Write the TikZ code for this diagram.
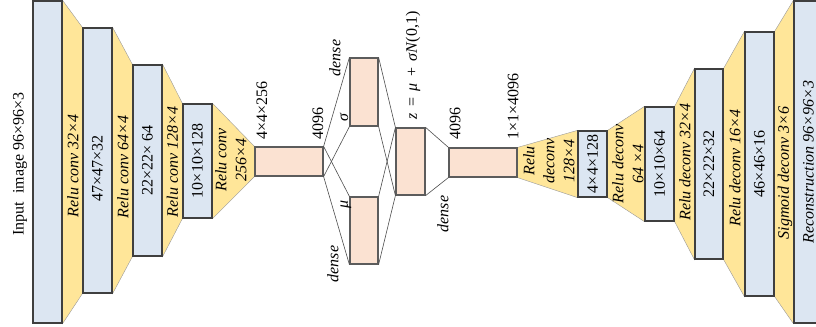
\documentclass[tikz,border=0pt]{standalone}
\usepackage{fontspec}
\setmainfont{Liberation Serif}
\usepackage{graphicx}
\usetikzlibrary{calc, backgrounds}
\definecolor{fmapblue}{HTML}{DCE6F2}
\definecolor{convyellow}{HTML}{FFE699}
\definecolor{densepink}{HTML}{FBE2D2}
\definecolor{edgegray}{HTML}{3F3F3F}
\tikzset{fmap/.style 2 args={draw=edgegray, line width=0.9pt, fill=fmapblue, inner sep=0pt, minimum width={#1*0.75pt}, minimum height={#2*0.75pt}}}
\tikzset{dense/.style 2 args={draw=edgegray!85, line width=0.9pt, fill=densepink, inner sep=0pt, minimum width={#1*0.75pt}, minimum height={#2*0.75pt}}}
\tikzset{convfill/.style={fill=convyellow, draw=black!40, line width=0.3pt}}
\tikzset{wire/.style={draw=black!70, line width=0.45pt}}
\tikzset{vlbl/.style={rotate=90, inner sep=1pt}}
\tikzset{convlbl/.style={rotate=90, inner sep=0pt, align=center, font=\fontsize{12}{15}\selectfont\itshape}}

\begin{document}
\begin{tikzpicture}[x=0.75pt, y=-0.75pt, every node/.append style={font=\fontsize{12}{15}\selectfont}]
    \useasboundingbox (0,0) rectangle (816,327);
    \clip (0,0) rectangle (816,327);

    % encoder feature maps
    \node[fmap={29}{322}] (inp) at (47.5,162) {};
    \node[fmap={29}{265}] (enc1) at (97.5,160.5) {\rotatebox{90}{47×47×32\hspace{12pt}}};
    \node[fmap={29}{191}] (enc2) at (147.5,160.5) {\rotatebox{90}{22×22× 64}};
    \node[fmap={29}{114}] (enc3) at (197.5,161) {\rotatebox{90}{10×10×128}};
    \node[vlbl] (inlbl) at (20,164) {Input\ \ image 96×96×3};

    % dense layers and sampling
    \node[dense={68}{29}] (h1) at (289,161.5) {};
    \node[dense={28}{68}] (sig) at (364,92) {};
    \node[dense={28}{67}] (mu) at (364,230.5) {};
    \node[dense={29}{67}] (z) at (410.5,161.5) {};
    \node[dense={68}{29}] (h2) at (483,162.5) {};

    % decoder feature maps
    \node[fmap={29}{66}] (dec1) at (592.5,164) {\rotatebox{90}{4×4×128}};
    \node[fmap={29}{114}] (dec2) at (659.5,164) {\rotatebox{90}{10×10×64}};
    \node[fmap={28}{190}] (dec3) at (709,164) {\rotatebox{90}{22×22×32}};
    \node[fmap={29}{264}] (dec4) at (759.5,164) {\rotatebox{90}{46×46×16}};
    \node[fmap={29}{322}] (out) at (808.5,162) {\rotatebox{90}{\itshape Reconstruction 96×96×3}};

    % conv / deconv stages between the maps
    \begin{scope}[on background layer]
        \foreach \a/\b in {inp/enc1, enc1/enc2, enc2/enc3, enc3/h1, h2/dec1, dec1/dec2, dec2/dec3, dec3/dec4, dec4/out}
            \draw[convfill] (\a.north east) -- (\b.north west) -- (\b.south west) -- (\a.south east) -- cycle;
    \end{scope}
    \node[convlbl] (c1) at (73,166) {Relu conv 32×4};
    \node[convlbl] (c2) at (123,167) {Relu conv 64×4};
    \node[convlbl] (c3) at (172.5,162) {Relu conv 128×4};
    \node[convlbl] (c4) at (231,160) {Relu conv\\256×4};
    \node[convlbl] (d1) at (549,161) {Relu\\deconv\\128×4};
    \node[convlbl] (d2) at (628,164) {Relu deconv\\64 ×4};
    \node[convlbl] (d3) at (685,162) {Relu deconv 32×4};
    \node[convlbl] (d4) at (735,168) {Relu deconv 16×4};
    \node[convlbl] (d5) at (785,173) {Sigmoid deconv 3×6};

    % fully connected wiring
    \foreach \t in {sig, mu} {
        \draw[wire] (h1.north east) -- (\t.north west);
        \draw[wire] (h1.south east) -- (\t.south west);
        \draw[wire] (\t.north east) -- (z.north west);
        \draw[wire] (\t.south east) -- (z.south west);
    }
    \draw[wire] (z.north east) -- (h2.north west);
    \draw[wire] (z.south east) -- (h2.south west);

    % sizes and layer names
    \node[vlbl, anchor=west] (s1) at (262,141) {4×4×256};
    \node[vlbl, anchor=west] (n1) at (318,141) {4096};
    \node[vlbl, anchor=west] (n2) at (455,141) {4096};
    \node[vlbl, anchor=west] (s2) at (513,141) {1×1×4096};
    \node[vlbl, anchor=west] (zlbl) at (413,121) {\textit{z}\hspace{0.4em}=\hspace{0.4em}\textit{μ}\hspace{0.4em}+\hspace{0.4em}\textit{σN}(0,1)};
    \node[vlbl, font=\fontsize{12}{15}\selectfont\itshape] (dsig) at (335,58) {dense};
    \node[vlbl, font=\fontsize{12}{15}\selectfont\itshape] (siglbl) at (344,118) {σ};
    \node[vlbl, font=\fontsize{12}{15}\selectfont\itshape] (mulbl) at (346,204) {μ};
    \node[vlbl, font=\fontsize{12}{15}\selectfont\itshape] (dmu) at (333,264) {dense};
    \node[vlbl, font=\fontsize{12}{15}\selectfont\itshape] (dz) at (443,214) {dense};
\end{tikzpicture}
\end{document}
